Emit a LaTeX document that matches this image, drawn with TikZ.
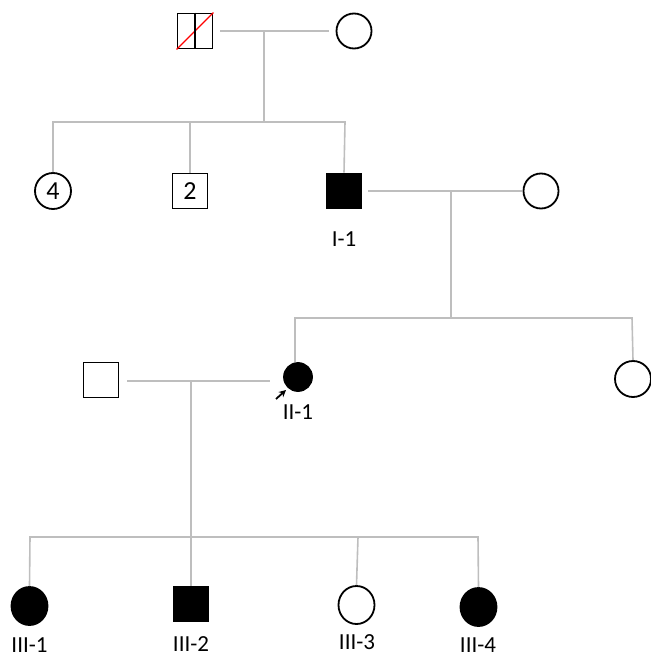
\documentclass[tikz,border=0pt]{standalone}
\usepackage{fontspec}
\setmainfont{Carlito}
\usetikzlibrary{arrows.meta,calc,shapes.geometric}
\definecolor{linegray}{RGB}{190,190,190}
\tikzset{
  x=1pt, y=-1pt,
  rel/.style={draw=linegray, line width=1.6pt},
  male/.style={draw=black, line width=1.8pt, minimum size=35pt, inner sep=0pt, rectangle, fill=white},
  female/.style={draw=black, line width=1.8pt, minimum size=35pt, inner sep=0pt, circle, fill=white},
  femaleoval/.style={draw=black, line width=1.8pt, minimum width=36pt, minimum height=38pt, inner sep=0pt, ellipse, fill=white},
  affected/.style={fill=black},
  lab/.style={font=\fontsize{23pt}{26pt}\selectfont, inner sep=0pt},
  cnt/.style={font=\fontsize{26pt}{29pt}\selectfont},
}
\begin{document}
\begin{tikzpicture}
\useasboundingbox (0,0) rectangle (650,658);
% generation I
\node[male] (gf) at (195,31) {};
\node[female] (gm) at (354,31) {};
\draw[red, line width=1.4pt] (gf.south west) -- (gf.north east);
\draw[black, line width=1.8pt] (gf.north) -- (gf.south);
\coordinate (m1) at (264,31);
\coordinate (s1) at (264,122);
\draw[rel] ($(gf.east)+(7,0)$) -- ($(gm.west)+(-7,0)$);
% generation II
\node[female, minimum size=36pt, cnt] (c4) at (53,191) {4};
\node[male, cnt] (c2) at (190,191) {2};
\node[male, affected] (i1) at (344,191) {};
\node[female] (sp1) at (541,191) {};
\node[lab] (li1) at (344,239) {I-1};
% generation III
\node[male] (sp2) at (101,380) {};
\node[female, affected, minimum size=28pt] (ii1) at (298,377) {};
\node[female, minimum size=36pt] (sib) at (633,379) {};
\node[lab] (lii1) at (298,412) {II-1};
% generation IV
\node[femaleoval, affected] (iii1) at (29.5,606) {};
\node[male, affected] (iii2) at (191,604) {};
\node[femaleoval] (iii3) at (356.5,605) {};
\node[femaleoval, affected] (iii4) at (478.5,607) {};
\node[lab] (liii1) at (29.5,645) {III-1};
\node[lab] (liii2) at (191,644) {III-2};
\node[lab] (liii3) at (357,642) {III-3};
\node[lab] (liii4) at (478,645) {III-4};
% connectors generation I
\draw[rel] (m1) -- (s1);
\draw[rel] (c4.north) -- (53,122) -- (345,122) -- (i1.north);
\draw[rel] (c2.north) -- (190,122);
% marriage I-1
\coordinate (m2l) at (368,191);
\coordinate (m2r) at (522,191);
\draw[rel] (m2l) -- (m2r);
\draw[rel] (451,191) -- (451,318);
\draw[rel] (295,362) -- (295,318) -- (632,318) -- (sib.north);
% marriage II-1
\coordinate (m3l) at (127,381);
\coordinate (m3r) at (270,381);
\draw[rel] (m3l) -- (m3r);
\draw[rel] (191,381) -- (iii2.north);
\draw[rel] (iii1.north) -- (30,537) -- (478,537) -- (iii4.north);
\draw[rel] (358,537) -- (iii3.north);
% proband arrow
\coordinate (pa) at (276,399);
\coordinate (pb) at (286,390);
\draw[-{Stealth[length=7pt,width=7pt]}, line width=1.8pt] (pa) -- (pb);
\end{tikzpicture}
\end{document}
